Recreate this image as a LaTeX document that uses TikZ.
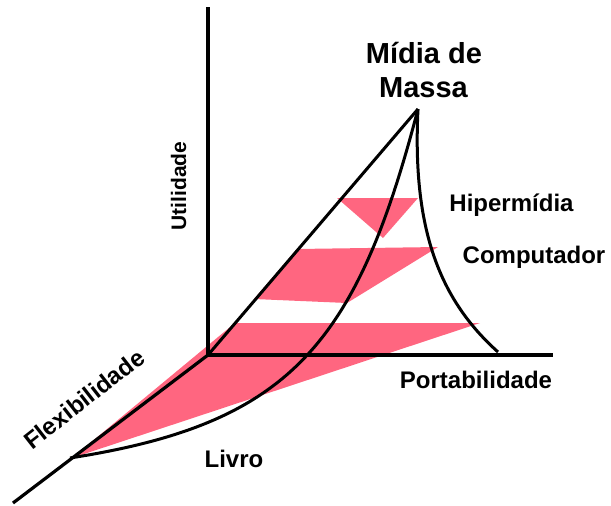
\documentclass[tikz,border=0pt]{standalone}
\usepackage{fontspec}
\setmainfont{Liberation Sans}
\begin{document}
\begin{tikzpicture}[x=1pt,y=-1pt,
  axis/.style={line width=3.2pt},
  curve/.style={line width=3pt},
  band/.style={fill=pinkband,draw=none},
  lbl/.style={font=\bfseries\fontsize{24}{28}\selectfont,inner sep=0pt,anchor=base},
  title/.style={font=\bfseries\fontsize{29}{34}\selectfont,inner sep=0pt,anchor=base}]
\definecolor{pinkband}{RGB}{255,102,128}
\useasboundingbox (0,0) rectangle (611,506);
% key points
\coordinate (O) at (208,355);
\coordinate (apex) at (418,109);
\coordinate (vtop) at (208,7);
\coordinate (hend) at (553,355);
\coordinate (dend) at (13,503);
\coordinate (livro) at (70,458);
\coordinate (port) at (498,352);
% pink bands
\fill[band] (337,198) -- (418,198) -- (383,238) -- cycle;
\fill[band] (297,249) -- (438,247) -- (347,303) -- (254,299) -- cycle;
\fill[band] (235,323) -- (480,323) -- (72,458) -- cycle;
% axes
\draw[axis] (vtop) -- (O) -- (hend);
\draw[axis] (O) -- (dend);
% triangle edges
\draw[curve] (O) -- (apex);
\draw[curve] (livro) .. controls (288,424) and (356,347) .. (apex);
\draw[curve] (apex) .. controls (412,230) and (440,300) .. (port);
% labels
\node[title] (m1) at (424,63) {Mídia de};
\node[title] (m2) at (423.5,97) {Massa};
\node[lbl] (hip) at (511.5,211) {Hipermídia};
\node[lbl] (comp) at (534,263) {Computador};
\node[lbl] (portl) at (476,388) {Portabilidade};
\node[lbl] (liv) at (234,467) {Livro};
\node[font=\bfseries\fontsize{21}{25}\selectfont,inner sep=0pt,rotate=90] (util) at (178.5,186) {Utilidade};
\node[font=\bfseries\fontsize{24}{28}\selectfont,inner sep=0pt,rotate=38] (flex) at (84,399) {Flexibilidade};
\end{tikzpicture}
\end{document}
